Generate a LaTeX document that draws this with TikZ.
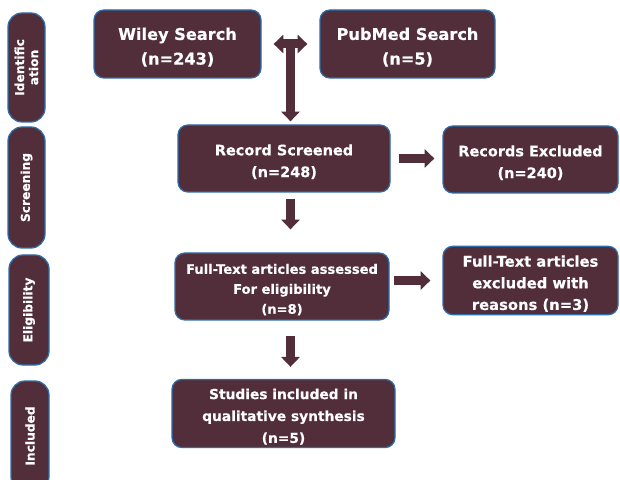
\documentclass[tikz,border=0pt]{standalone}
\usepackage{fontspec}
\setmainfont{DejaVu Sans}[BoldFeatures={FakeBold=0.4}]
\usetikzlibrary{arrows.meta,calc}
\definecolor{maroon}{RGB}{82,46,58}
\definecolor{edgeblue}{RGB}{46,108,170}
\newcommand{\lowtext}{\rule{0pt}{\dimexpr 0.76em+4.5pt\relax}}

\begin{document}
\begin{tikzpicture}[>={Triangle[length=7pt,width=13pt]},
    box/.style={draw=edgeblue, line width=0.9pt, fill=maroon, rounded corners=7pt,
        text=white, align=center, inner sep=2pt, minimum height=1.675cm},
    phase/.style={draw=edgeblue, line width=0.9pt, fill=maroon, rounded corners=10pt,
        text=white, rotate=90, align=center, inner sep=1pt,
        font=\bfseries\fontsize{8.7}{10}\selectfont},
    flow/.style={draw=maroon, line width=6.4pt}]
    \useasboundingbox (0, 0) rectangle (15.5, 11.975);
    \clip (0, 0) rectangle (15.5, 11.975);

    % Phasen links
    \node[phase, minimum width=2.725cm, minimum height=0.925cm] (ident) at (0.6625, 10.2875) {Identific\\ation};
    \node[phase, minimum width=3.025cm, minimum height=0.925cm] (screening) at (0.6625, 7.2875) {Screening};
    \node[phase, minimum width=2.75cm, minimum height=1cm] (elig) at (0.725, 4.225) {Eligibility};
    \node[phase, minimum width=2.75cm, minimum height=0.95cm] (incl) at (0.75, 1.075) {Included};

    % Suche
    \node[box, minimum width=4.175cm, minimum height=1.7cm, font=\bfseries\fontsize{11.5}{17.5}\selectfont]
        (wiley) at (4.4375, 10.875) {\lowtext Wiley Search\\(n=243)};
    \node[box, minimum width=4.375cm, minimum height=1.7cm, font=\bfseries\fontsize{11.5}{17.5}\selectfont]
        (pubmed) at (10.1875, 10.875) {\lowtext PubMed Search\\(n=5)};

    % Screening
    \node[box, minimum width=5.3cm, font=\bfseries\fontsize{10.3}{15.5}\selectfont]
        (screen) at (7.1, 8.0125) {\lowtext Record Screened\\(n=248)};
    \node[box, minimum width=4.375cm, font=\bfseries\fontsize{10.3}{15.5}\selectfont]
        (excl) at (13.2625, 7.9875) {\lowtext Records Excluded\\(n=240)};

    % Eligibility
    \node[box, minimum width=5.35cm, font=\bfseries\fontsize{9.3}{14.2}\selectfont]
        (assess) at (7.05, 4.8125) {\lowtext Full-Text articles assessed\\For eligibility\\(n=8)};
    \node[box, minimum width=4.375cm, font=\bfseries\fontsize{10.5}{15.4}\selectfont]
        (reasons) at (13.2625, 4.9625) {\lowtext Full-Text articles\\excluded with\\reasons (n=3)};

    % Included
    \node[box, minimum width=5.575cm, font=\bfseries\fontsize{9.8}{15.6}\selectfont]
        (studies) at (7.0875, 1.6375) {\lowtext Studies included in\\qualitative synthesis\\(n=5)};

    % Pfeile
    \coordinate (join) at ($(wiley.east)!0.5!(pubmed.west)$);
    \draw[flow, <->, shorten <=0.3cm, shorten >=0.3cm] (wiley) -- (pubmed);
    \draw[flow, ->, shorten >=0.075cm] (join) -- (join |- screen.north);
    \draw[flow, ->, shorten <=0.2cm, shorten >=0.2cm] (screen) -- (excl.west |- screen);
    \draw[flow, ->, shorten <=0.15cm, shorten >=0.575cm] (join |- screen.south) -- (join |- assess.north);
    \draw[flow, ->, shorten <=0.1cm, shorten >=0.3cm] (assess.east |- reasons.west) -- (reasons.west);
    \draw[flow, ->, shorten <=0.375cm, shorten >=0.3cm] (join |- assess.south) -- (join |- studies.north);
\end{tikzpicture}
\end{document}
